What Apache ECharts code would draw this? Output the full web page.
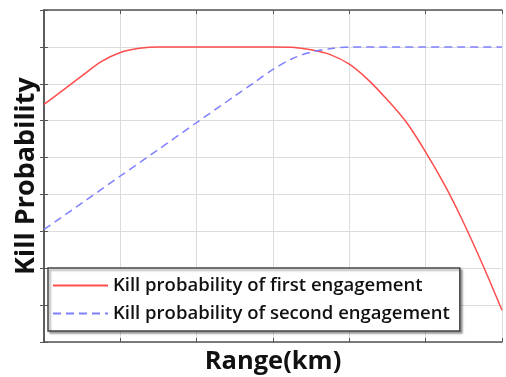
<!DOCTYPE html>
<html><head><meta charset="utf-8">
<script src="https://cdn.jsdelivr.net/npm/echarts@6/dist/echarts.min.js"></script>
<style>html,body{margin:0;padding:0;background:#fff}#c{width:506px;height:377px}</style>
</head><body><div id="c"></div>
<script>
const seriesNames = ['Kill probability of first engagement', 'Kill probability of second engagement'];
const firstX = [0, 2.5, 5, 7.5, 10, 12.5, 15, 20, 25, 30, 32.5, 35, 37.5, 40, 42.5, 45, 47.5, 50, 52.5, 55, 57.5, 60];
const firstY = [74.4, 78.3, 82.2, 86.0, 88.5, 89.6, 90, 90, 90, 90, 89.9, 89.2, 87.9, 85.3, 81.0, 75.6, 69.5, 61.5, 52.5, 42.2, 30.8, 18.6];
const secondX = [0, 5, 10, 15, 20, 25, 27.5, 30, 32.5, 35, 37.5, 40, 45, 50, 55, 60];
const secondY = [40.5, 47.7, 55.0, 62.2, 69.5, 76.7, 80.3, 83.9, 86.8, 88.6, 89.5, 90, 90, 90, 90, 90];

const chart = echarts.init(document.getElementById('c'));
const font = '"Open Sans", "Noto Sans", sans-serif';
const axBase = {
  axisLine: {show: true, lineStyle: {color: '#555', width: 1.5}},
  axisTick: {show: true, inside: true, length: 4, lineStyle: {color: '#555'}},
  axisLabel: {show: false},
};
chart.setOption({
  animation: false,
  grid: {left: 44, right: 4, top: 10, bottom: 35, outerBoundsMode: 'none', containLabel: false},
  legend: {
    orient: 'vertical', left: 48, top: 268,
    itemWidth: 55, itemHeight: 12, itemGap: 9,
    backgroundColor: '#fff', borderColor: '#444', borderWidth: 1.5,
    padding: [8, 10, 8, 4],
    shadowColor: 'rgba(0,0,0,0.35)', shadowBlur: 2, shadowOffsetX: 2, shadowOffsetY: 2,
    itemStyle: {opacity: 0},
    textStyle: {fontFamily: font, fontSize: 18.5, color: '#111', fontWeight: 600},
    data: seriesNames
  },
  xAxis: [
    Object.assign({}, axBase, {type: 'value', min: 0, max: 60, interval: 10,
      name: 'Range(km)', nameLocation: 'middle', nameGap: 7,
      nameTextStyle: {fontFamily: font, fontSize: 25.5, fontWeight: 'bold', color: '#111'},
      splitLine: {show: true, lineStyle: {color: '#dcdcdc', width: 1}}}),
    Object.assign({}, axBase, {type: 'value', position: 'top', min: 0, max: 60, interval: 10, splitLine: {show: false}})
  ],
  yAxis: [
    Object.assign({}, axBase, {type: 'value', min: 10, max: 100, interval: 10,
      name: 'Kill Probability', nameLocation: 'middle', nameGap: 4,
      nameTextStyle: {fontFamily: font, fontSize: 27, fontWeight: 'bold', color: '#111'},
      splitLine: {show: true, lineStyle: {color: '#dcdcdc', width: 1}}}),
    Object.assign({}, axBase, {type: 'value', position: 'right', min: 10, max: 100, interval: 10, splitLine: {show: false}})
  ],
  series: [
    {name: seriesNames[0], type: 'line', symbol: 'none', smooth: 0.3,
      data: firstX.map((x, i) => [x, firstY[i]]),
      lineStyle: {color: '#ff4d4d', width: 1.5}, itemStyle: {color: '#ff4d4d'}},
    {name: seriesNames[1], type: 'line', symbol: 'none', smooth: 0.3,
      data: secondX.map((x, i) => [x, secondY[i]]),
      lineStyle: {color: '#8080ff', width: 1.5, type: [8, 5]}, itemStyle: {color: '#8080ff'}}
  ]
});
</script></body></html>
